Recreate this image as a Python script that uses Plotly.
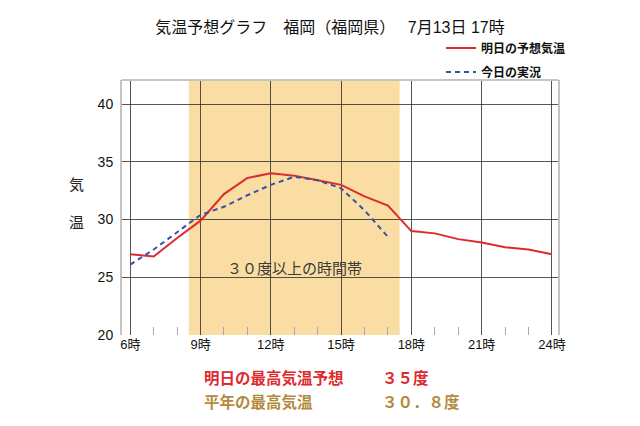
import plotly.graph_objects as go

hours = list(range(6, 25))
forecast = [27.0, 26.8, 28.4, 29.9, 32.2, 33.6, 34.0, 33.8, 33.4, 33.0, 32.0, 31.2,
            29.0, 28.8, 28.3, 28.0, 27.6, 27.4, 27.0]
actual_hours = list(range(6, 18))
actual = [26.1, 27.4, 28.9, 30.4, 31.1, 32.1, 33.0, 33.7, 33.4, 32.7, 30.8, 28.5]

major_ticks = [6, 9, 12, 15, 18, 21, 24]
major_labels = ["6時", "9時", "12時", "15時", "18時", "21時", "24時"]
minor_ticks = [h for h in hours if h % 3 != 0]
y_ticks = [20, 25, 30, 35, 40]

band_start, band_end = 8.5, 17.5
band_label = "３０度以上の時間帯"
title_text = "気温予想グラフ　福岡（福岡県）　 7月13日 17時"
series_names = ["明日の予想気温", "今日の実況"]
summary_labels = ["明日の最高気温予想", "平年の最高気温"]
summary_values = ["３５度", "３０．８度"]

FONT = "Liberation Sans, Arial, Noto Sans CJK JP, sans-serif"
RED = "#DE2A2E"
BLUE = "#3A4FA6"
GOLD = "#B38A3C"

OFF = 8  # page body margin
W, H = 640 - OFF, 426 - OFF
L, R, T, B = 122 - OFF, 82, 80 - OFF, 91
pw, ph = W - L - R, H - T - B

def px2x(px):
    return (px - OFF - L) / pw

def py2y(py):
    return (H - B - (py - OFF)) / ph

fig = go.Figure()
fig.add_trace(go.Scatter(x=hours, y=forecast, mode="lines", name=series_names[0],
                         line=dict(color=RED, width=2), legend="legend"))
fig.add_trace(go.Scatter(x=actual_hours, y=actual, mode="lines", name=series_names[1],
                         line=dict(color=BLUE, width=2, dash="5px,4px"), legend="legend2"))

fig.add_shape(type="rect", xref="x", yref="y domain", x0=band_start, x1=band_end,
              y0=0, y1=1, fillcolor="#F9DDA2", line_width=0, layer="below")
fig.add_shape(type="line", xref="paper", yref="paper", x0=0, x1=1, y0=1, y1=1,
              line=dict(color="#C4C4C4", width=2))

fig.add_annotation(x=13.0, y=25.8, xref="x", yref="y", text=band_label, showarrow=False,
                   xanchor="center", yanchor="middle",
                   font=dict(size=15, color="#3A3A3A", family=FONT))

fig.add_annotation(x=px2x(76), y=py2y(184), xref="paper", yref="paper", text="気",
                   showarrow=False, xanchor="center", yanchor="middle",
                   font=dict(size=15, color="#222", family=FONT))
fig.add_annotation(x=px2x(76), y=py2y(222), xref="paper", yref="paper", text="温",
                   showarrow=False, xanchor="center", yanchor="middle",
                   font=dict(size=15, color="#222", family=FONT))

for i, (lab, val, col) in enumerate(zip(summary_labels, summary_values, [RED, GOLD])):
    yy = py2y(378 + 24 * i)
    fig.add_annotation(x=px2x(202), y=yy, xref="paper", yref="paper", text="<b>%s</b>" % lab,
                       showarrow=False, xanchor="left", yanchor="middle",
                       font=dict(size=15.5, color=col, family=FONT))
    fig.add_annotation(x=px2x(380), y=yy, xref="paper", yref="paper", text="<b>%s</b>" % val,
                       showarrow=False, xanchor="left", yanchor="middle",
                       font=dict(size=15.5, color=col, family=FONT))

grid = "rgba(30,30,30,0.75)"
legend_font = dict(size=12, color="#111", family=FONT, weight="bold")
fig.update_layout(
    width=W, height=H, margin=dict(l=L, r=R, t=T, b=B),
    paper_bgcolor="white", plot_bgcolor="white",
    font=dict(family=FONT, color="#111"),
    title=dict(text=title_text, x=(330 - OFF) / W, xref="container", xanchor="center",
               y=1 - (27 - OFF) / H, yref="container", yanchor="middle",
               font=dict(size=16, color="#111", family=FONT)),
    xaxis=dict(range=[5.646, 24.26], tickmode="array", tickvals=major_ticks,
               ticktext=major_labels, ticks="", showgrid=True, gridcolor=grid, gridwidth=1,
               zeroline=False, showline=False, tickfont=dict(size=13, color="#111"),
               minor=dict(tickmode="array", tickvals=minor_ticks, ticks="inside",
                          ticklen=8, tickcolor="#A8A8A8", tickwidth=1, showgrid=False)),
    xaxis2=dict(range=[5.646, 24.26], overlaying="x", side="bottom", tickmode="array",
                tickvals=minor_ticks, ticks="outside", ticklen=8, tickcolor="#A8A8A8",
                tickwidth=1, showticklabels=False, showgrid=False, zeroline=False,
                showline=False),
    yaxis=dict(range=[20, 42.08], tickmode="array", tickvals=y_ticks, ticks="",
               showgrid=True, gridcolor=grid, gridwidth=1, zeroline=False,
               showline=True, linecolor="#C4C4C4", linewidth=2, mirror=True,
               tickfont=dict(size=14, color="#111"), ticklabelstandoff=4),
    legend=dict(x=px2x(441), y=py2y(48), xanchor="left", yanchor="middle",
                bgcolor="rgba(0,0,0,0)", font=legend_font, itemwidth=30),
    legend2=dict(x=px2x(441), y=py2y(72), xanchor="left", yanchor="middle",
                 bgcolor="rgba(0,0,0,0)", font=legend_font, itemwidth=30),
    showlegend=True,
)

fig.write_html("out.html")
